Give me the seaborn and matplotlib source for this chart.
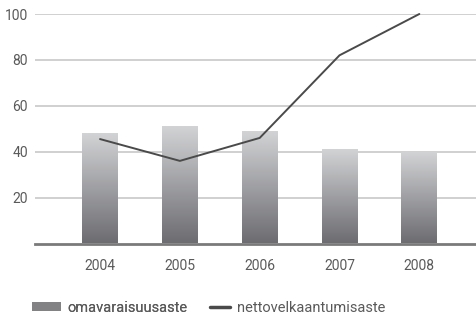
import numpy as np
import pandas as pd
import matplotlib
matplotlib.use("Agg")
import matplotlib.pyplot as plt
import seaborn as sns
from matplotlib.lines import Line2D
from matplotlib.patches import Patch
from matplotlib.colors import LinearSegmentedColormap

years = ["2004", "2005", "2006", "2007", "2008"]
omavaraisuusaste = [48, 51, 49, 41, 40]
nettovelkaantumisaste = [45.5, 36, 46, 82, 100]
yticks = [20, 40, 60, 80, 100]
labels = ["omavaraisuusaste", "nettovelkaantumisaste"]

sns.set_theme(style="white")
plt.rcParams["font.family"] = ["Roboto", "DejaVu Sans"]

txt = "#5a5a5a"
W, H = 476, 316
fig = plt.figure(figsize=(4.76, 3.16), dpi=100)
ax = fig.add_axes([35/W, 1-243.5/H, 1-35/W, (243.5-14)/H])

df = pd.DataFrame({"year": years, "val": omavaraisuusaste})
sns.barplot(data=df, x="year", y="val", ax=ax, width=0.45, color="#999999", zorder=2)

grad = np.linspace(0, 1, 256).reshape(-1, 1)
cmap = LinearSegmentedColormap.from_list("g", ["#6c6c71", "#d3d4d6"])
for p in ax.patches:
    x0, y0 = p.get_x(), p.get_y()
    w, h = p.get_width(), p.get_height()
    im = ax.imshow(grad, extent=[x0, x0 + w, y0, y0 + h], origin="lower",
                   cmap=cmap, aspect="auto", zorder=2)
    im.set_clip_path(p)
    p.set_facecolor("none")
    p.set_edgecolor("none")

ax.plot(range(len(years)), nettovelkaantumisaste, color="#4a4a4a", lw=1.4,
        zorder=4, clip_on=False)

ax.set_xlim(-0.815, 4.71)
ax.set_ylim(0, 100)
ax.set_yticks(yticks)
ax.yaxis.grid(True, color="#c8c8c8", lw=1.2, zorder=1)
ax.set_axisbelow(True)
for s in ["top", "right", "left"]:
    ax.spines[s].set_visible(False)
ax.spines["bottom"].set_color("#7a7a7a")
ax.spines["bottom"].set_linewidth(2)
ax.spines["bottom"].set_zorder(5)
ax.tick_params(axis="both", length=0, labelsize=10, labelcolor=txt)
ax.tick_params(axis="x", pad=11)
ax.tick_params(axis="y", pad=5)
ax.set_xlabel("")
ax.set_ylabel("")

fs = 10.5
em = fs * 100 / 72
leg1 = fig.legend([Patch(facecolor="#828285", edgecolor="none")], [labels[0]],
                  loc="lower left", bbox_to_anchor=(32/W, 1-315/H),
                  frameon=False, fontsize=fs, handlelength=29/em,
                  handleheight=0.6, handletextpad=6/em, borderpad=0,
                  borderaxespad=0, labelcolor=txt)
leg2 = fig.legend([Line2D([], [], color="#4a4a4a", lw=2.5)], [labels[1]],
                  loc="lower left", bbox_to_anchor=(210/W, 1-315/H),
                  frameon=False, fontsize=fs, handlelength=20/em,
                  handletextpad=7/em, borderpad=0, borderaxespad=0,
                  labelcolor=txt)
fig.add_artist(leg1)

fig.savefig("out.png", dpi=100)
